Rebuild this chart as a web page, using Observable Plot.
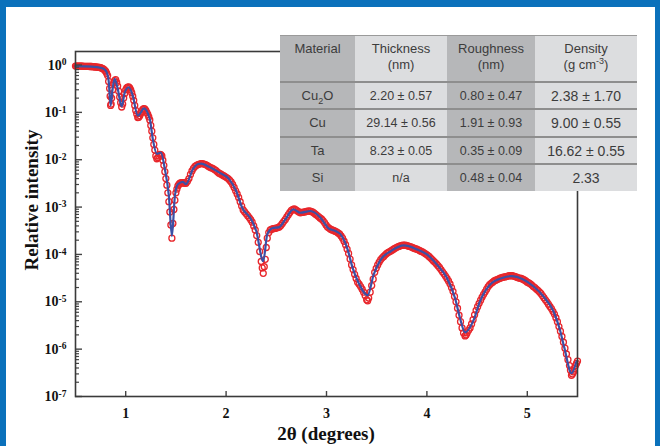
<!DOCTYPE html>
<html><head><meta charset="utf-8">
<script src="https://cdn.jsdelivr.net/npm/d3@7"></script>
<script src="https://cdn.jsdelivr.net/npm/@observablehq/plot@0.6"></script>
<style>
body{margin:0;background:#fff;}
#wrap{position:relative;width:660px;height:446px;overflow:hidden;background:#fff;}
#wrap svg{position:absolute;left:0;top:0;}
.bar{position:absolute;background:#0b71bb;z-index:5;}
#tbl{position:absolute;left:280px;top:35px;width:357px;display:grid;grid-template-columns:75px 92px 88px 102px;grid-template-rows:47px 27px 28px 27px 26px;font-family:"Liberation Sans",Arial,sans-serif;font-size:13px;color:#3c3c3c;z-index:4;border-top:1px solid #9a9a9a;}
#tbl > div{display:flex;align-items:center;justify-content:center;text-align:center;box-sizing:border-box;line-height:16px;}
#tbl > div.hd{align-items:flex-start;padding-top:5px;}
#tbl > div.dk{background:#b6b7b9;}
#tbl > div.lt{background:#dcdddf;}
#tbl > div.sep{border-bottom:2px solid #8e8e8e;}
#tbl sub,#tbl sup{font-size:9px;line-height:0;}
</style>
</head><body>
<div id="wrap">
  <div class="bar" style="left:0;top:0;width:660px;height:7px"></div>
  <div class="bar" style="left:0;top:0;width:6px;height:446px"></div>
  <div class="bar" style="left:655px;top:0;width:5px;height:446px"></div>
  <div id="tbl"></div>
</div>
<script>
// ---- data ----
// fitted model (blue line)
const thetaFit = [0.50,0.66,0.76,0.79,0.81,0.83,0.85,0.87,0.89,0.92,0.96,0.99,1.03,1.07,1.12,1.15,1.18,1.24,1.27,1.31,1.35,1.39,1.43,1.46,1.49,1.52,1.57,1.60,1.67,1.72,1.75,1.83,1.93,2.03,2.10,2.16,2.25,2.30,2.37,2.41,2.46,2.53,2.59,2.67,2.74,2.84,2.94,3.02,3.09,3.14,3.21,3.26,3.32,3.41,3.47,3.54,3.64,3.77,3.90,4.00,4.10,4.20,4.28,4.33,4.38,4.46,4.53,4.63,4.75,4.84,4.96,5.06,5.16,5.26,5.32,5.37,5.44,5.49];
const intensityFit = [0.944,0.929,0.863,0.803,0.703,0.470,0.139,0.318,0.511,0.318,0.134,0.261,0.339,0.226,0.0851,0.0986,0.122,0.0724,0.0273,0.0133,0.0142,6.3e-3,1.72e-3,2.44e-4,1.72e-3,3.04e-3,3.40e-3,3.04e-3,6.3e-3,8.1e-3,8.3e-3,7.1e-3,5.4e-3,3.9e-3,2.19e-3,9.7e-4,5.5e-4,3.12e-4,7.2e-5,2.65e-4,3.56e-4,3.78e-4,5.5e-4,8.97e-4,7.6e-4,8.26e-4,5.96e-4,3.56e-4,3.12e-4,2.65e-4,1.28e-4,5.2e-5,2.5e-5,1.37e-5,3.77e-5,7.8e-5,1.17e-4,1.55e-4,1.28e-4,1.0e-4,6.1e-5,3.19e-5,1.2e-5,4.5e-6,2.26e-6,3.86e-6,1.03e-5,2.31e-5,3.19e-5,3.47e-5,2.95e-5,2.13e-5,1.31e-5,6.3e-6,2.79e-6,1.05e-6,3.1e-7,5.5e-7];

// measured data (red open circles), first set of readings
const thetaMeas = [0.50,0.52,0.54,0.56,0.58,0.60,0.62,0.64,0.66,0.68,0.70,0.72,0.74,0.76,0.78,0.80,0.82,0.84,0.85,0.86,0.88,0.90,0.92,0.94,0.96,0.98,1.00,1.02,1.04,1.06,1.08,1.10,1.12,1.14,1.16,1.18,1.20,1.22,1.24,1.26,1.28,1.30,1.32,1.34,1.36,1.38,1.40,1.42,1.44,1.46,1.48,1.50,1.52,1.54,1.56,1.58,1.60,
1.63,1.66,1.69,1.72,1.75,1.78,1.81,1.84,1.87,1.90,1.93,1.96,1.99,2.02,2.05,2.08,2.11,2.14,2.17,2.20,2.23,2.26,2.29,2.32,2.35,2.37,2.39,2.41,2.44,2.47,2.50,2.53,2.56,2.59,2.62,2.65,2.68,2.71,2.74,2.77,2.80,2.83,2.86,2.89,2.92,2.95,2.98,3.01,3.04,3.07,3.10,3.13,3.16,3.19,3.22,3.25,3.28,3.31,3.34,3.37,3.40,3.42,3.45,3.48,3.51,3.54,3.57,3.60,3.63,3.66,3.69,3.72,3.75,3.78,3.81,3.84,3.87,3.90,3.93,3.96,3.99,4.02,4.05,4.08,4.11,4.14,4.17,4.20,4.23,4.26,4.29,4.32,4.35,4.38,4.40,4.43,4.46,4.49,4.52,4.55,4.58,4.61,4.64,4.67,4.70,4.73,4.76,4.79,4.82,4.85,4.88,4.91,4.94,4.97,5.00,5.03,5.06,5.09,5.12,5.15,5.18,5.21,5.24,5.27,5.30,5.33,5.36,5.39,5.42,5.44,5.46,5.48,5.50];
const intensityMeas = [0.95,0.95,0.95,0.95,0.94,0.94,0.94,0.93,0.93,0.92,0.91,0.90,0.89,0.86,0.82,0.74,0.60,0.32,0.14,0.20,0.42,0.49,0.36,0.21,0.13,0.20,0.30,0.34,0.33,0.26,0.18,0.11,0.078,0.085,0.105,0.12,0.11,0.091,0.069,0.040,0.021,0.012,0.011,0.013,0.012,7.6e-3,4.0e-3,2.0e-3,7.9e-4,2.2e-4,8.9e-4,2.0e-3,2.8e-3,3.2e-3,3.3e-3,3.2e-3,3.2e-3,
4.0e-3,5.8e-3,7.2e-3,7.9e-3,8.3e-3,8.1e-3,7.6e-3,6.9e-3,6.5e-3,5.9e-3,5.2e-3,4.8e-3,4.4e-3,4.0e-3,3.4e-3,2.6e-3,1.9e-3,1.3e-3,8.7e-4,7.2e-4,6.0e-4,4.8e-4,3.3e-4,1.8e-4,7.1e-5,4.0e-5,7.9e-5,2.2e-4,3.3e-4,3.5e-4,3.6e-4,3.8e-4,4.5e-4,5.5e-4,6.9e-4,8.5e-4,9.1e-4,8.3e-4,7.6e-4,7.8e-4,8.1e-4,8.3e-4,7.9e-4,7.1e-4,6.3e-4,5.6e-4,4.7e-4,3.8e-4,3.4e-4,3.2e-4,3.0e-4,2.7e-4,2.2e-4,1.6e-4,1.05e-4,6.0e-5,3.8e-5,2.6e-5,2.1e-5,1.6e-5,1.1e-5,1.2e-5,2.2e-5,4.2e-5,6.0e-5,7.8e-5,9.1e-5,1.05e-4,1.15e-4,1.26e-4,1.38e-4,1.48e-4,1.55e-4,1.58e-4,1.51e-4,1.45e-4,1.35e-4,1.29e-4,1.20e-4,1.12e-4,1.02e-4,9.1e-5,7.9e-5,6.8e-5,5.8e-5,4.8e-5,3.9e-5,3.1e-5,2.4e-5,1.66e-5,1.0e-5,5.2e-6,2.8e-6,1.9e-6,2.2e-6,2.8e-6,4.2e-6,6.6e-6,9.3e-6,1.26e-5,1.62e-5,2.1e-5,2.45e-5,2.75e-5,2.95e-5,3.16e-5,3.3e-5,3.4e-5,3.55e-5,3.55e-5,3.4e-5,3.2e-5,3.1e-5,2.9e-5,2.6e-5,2.4e-5,2.1e-5,1.86e-5,1.62e-5,1.35e-5,1.1e-5,8.9e-6,7.2e-6,5.5e-6,3.8e-6,2.4e-6,1.4e-6,7.9e-7,4.5e-7,2.8e-7,3.3e-7,4.5e-7,5.6e-7];

// measured data (red open circles), readings between the first set
const thetaMeas2 = [0.51,0.53,0.55,0.57,0.59,0.61,0.63,0.65,0.67,0.69,0.71,0.73,0.75,0.77,0.79,0.81,0.83,0.845,0.855,0.87,0.89,0.91,0.93,0.95,0.97,0.99,1.01,1.03,1.05,1.07,1.09,1.11,1.13,1.15,1.17,1.19,1.21,1.23,1.25,1.27,1.29,1.31,1.33,1.35,1.37,1.39,1.41,1.43,1.45,1.47,1.49,1.51,1.53,1.55,1.57,1.59,
1.615,1.645,1.675,1.705,1.735,1.765,1.795,1.825,1.855,1.885,1.915,1.945,1.975,2.005,2.035,2.065,2.095,2.125,2.155,2.185,2.215,2.245,2.275,2.305,2.335,2.36,2.38,2.40,2.425,2.455,2.485,2.515,2.545,2.575,2.605,2.635,2.665,2.695,2.725,2.755,2.785,2.815,2.845,2.875,2.905,2.935,2.965,2.995,3.025,3.055,3.085,3.115,3.145,3.175,3.205,3.235,3.265,3.295,3.325,3.355,3.385,3.41,3.435,3.465,3.495,3.525,3.555,3.585,3.615,3.645,3.675,3.705,3.735,3.765,3.795,3.825,3.855,3.885,3.915,3.945,3.975,4.005,4.035,4.065,4.095,4.125,4.155,4.185,4.215,4.245,4.275,4.305,4.335,4.365,4.39,4.415,4.445,4.475,4.505,4.535,4.565,4.595,4.625,4.655,4.685,4.715,4.745,4.775,4.805,4.835,4.865,4.895,4.925,4.955,4.985,5.015,5.045,5.075,5.105,5.135,5.165,5.195,5.225,5.255,5.285,5.315,5.345,5.375,5.405,5.43,5.45,5.47,5.49];
const intensityMeas2 = [0.95,0.95,0.95,0.945,0.94,0.94,0.935,0.93,0.925,0.915,0.905,0.895,0.875,0.84,0.78,0.67,0.45,0.22,0.15,0.30,0.47,0.43,0.28,0.16,0.15,0.25,0.33,0.345,0.30,0.22,0.14,0.092,0.079,0.095,0.115,0.118,0.10,0.080,0.053,0.029,0.016,0.0105,0.012,0.0128,0.0098,5.6e-3,2.9e-3,1.3e-3,4.2e-4,4.5e-4,1.4e-3,2.4e-3,3.0e-3,3.25e-3,3.3e-3,3.2e-3,
3.5e-3,4.9e-3,6.6e-3,7.6e-3,8.1e-3,8.3e-3,7.9e-3,7.2e-3,6.7e-3,6.2e-3,5.5e-3,5.0e-3,4.6e-3,4.2e-3,3.7e-3,3.0e-3,2.2e-3,1.6e-3,1.05e-3,7.9e-4,6.6e-4,5.4e-4,4.0e-4,2.5e-4,1.15e-4,5.2e-5,5.5e-5,1.4e-4,2.9e-4,3.4e-4,3.55e-4,3.7e-4,4.1e-4,5.0e-4,6.2e-4,7.7e-4,8.9e-4,8.7e-4,7.9e-4,7.7e-4,7.9e-4,8.2e-4,8.1e-4,7.5e-4,6.7e-4,5.9e-4,5.2e-4,4.2e-4,3.6e-4,3.3e-4,3.1e-4,2.85e-4,2.45e-4,1.9e-4,1.3e-4,8.0e-5,4.8e-5,3.1e-5,2.35e-5,1.85e-5,1.35e-5,1.05e-5,1.6e-5,3.0e-5,5.1e-5,6.9e-5,8.5e-5,9.8e-5,1.1e-4,1.2e-4,1.32e-4,1.43e-4,1.52e-4,1.57e-4,1.55e-4,1.48e-4,1.4e-4,1.32e-4,1.25e-4,1.16e-4,1.07e-4,9.7e-5,8.5e-5,7.3e-5,6.3e-5,5.3e-5,4.3e-5,3.5e-5,2.75e-5,2.0e-5,1.3e-5,7.3e-6,3.8e-6,2.2e-6,2.0e-6,2.5e-6,3.4e-6,5.3e-6,7.9e-6,1.08e-5,1.44e-5,1.85e-5,2.3e-5,2.6e-5,2.85e-5,3.05e-5,3.25e-5,3.35e-5,3.5e-5,3.55e-5,3.5e-5,3.3e-5,3.15e-5,3.0e-5,2.75e-5,2.5e-5,2.25e-5,2.0e-5,1.75e-5,1.5e-5,1.22e-5,1.0e-5,8.0e-6,6.3e-6,4.6e-6,3.0e-6,1.85e-6,1.05e-6,6.0e-7,3.6e-7,3.0e-7,3.9e-7,5.0e-7];

const xDomain = [0.5, 5.5];
const yDomain = [1e-7, 1.93];
const xTicks = [1, 2, 3, 4, 5];
const yMajorTicks = [1e0, 1e-1, 1e-2, 1e-3, 1e-4, 1e-5, 1e-6, 1e-7];
const yMinorMultipliers = [2, 3, 4, 5, 6, 7, 8, 9];
const xTitle = "2θ (degrees)";
const yTitle = "Relative intensity";

const tableHeaders = ["Material", "Thickness", "Roughness", "Density"];
const tableUnits = ["", "(nm)", "(nm)", "(g cm^-3)"];
const materials = ["Cu_2O", "Cu", "Ta", "Si"];
const thickness = ["2.20 ± 0.57", "29.14 ± 0.56", "8.23 ± 0.05", "n/a"];
const roughness = ["0.80 ± 0.47", "1.91 ± 0.93", "0.35 ± 0.09", "0.48 ± 0.04"];
const density = ["2.38 ± 1.70", "9.00 ± 0.55", "16.62 ± 0.55", "2.33"];

// ---- build ----
const fit = thetaFit.map((x, i) => ({x, y: intensityFit[i]}));
const meas = thetaMeas.map((x, i) => ({x, y: intensityMeas[i]}))
  .concat(thetaMeas2.map((x, i) => ({x, y: intensityMeas2[i]})));
const yMinor = [];
yMajorTicks.forEach(t => yMinorMultipliers.forEach(m => { const v = t * m; if (v < yDomain[1] && v > yDomain[0]) yMinor.push(v); }));

const chart = Plot.plot({
  width: 660, height: 446,
  marginLeft: 75, marginRight: 83, marginTop: 51, marginBottom: 50,
  style: {fontFamily: "'Liberation Serif', 'Times New Roman', serif", fontSize: "13px", fontWeight: "bold", color: "#111", background: "transparent"},
  x: {domain: xDomain},
  y: {type: "log", domain: yDomain},
  marks: [
    Plot.dot(meas, {x: "x", y: "y", r: 3.0, stroke: "#e8262b", strokeWidth: 1.3, fill: "none"}),
    Plot.line(fit, {x: "x", y: "y", stroke: "#3b50a5", strokeWidth: 2.2, curve: "monotone-x"}),
    Plot.axisY(yMinor, {anchor: "left", tickSize: 4, dx: 4, tickFormat: () => "", stroke: "#444", strokeWidth: 1.2, label: null}),
    Plot.axisY(yMajorTicks, {anchor: "left", tickSize: 7, dx: 7, tickPadding: 9, fontSize: 14, tickFormat: d => "10^" + Math.round(Math.log10(d)), stroke: "#444", strokeWidth: 1.4, label: null, fill: "#111"}),
    Plot.axisX(xTicks, {anchor: "bottom", tickSize: 5, dy: -5, tickPadding: 12, fontSize: 14, tickFormat: d => String(d), stroke: "#444", strokeWidth: 1.4, label: null, fill: "#111"}),
    Plot.frame({stroke: "#3a3a3a", strokeWidth: 1.6})
  ]
});
document.getElementById("wrap").insertBefore(chart, document.getElementById("tbl"));

// superscript exponents on the y tick labels
d3.select(chart).selectAll('g[aria-label="y-axis tick label"] text').each(function() {
  const t = this.textContent;
  if (!t.includes("^")) return;
  const [base, exp] = t.split("^");
  const sel = d3.select(this);
  sel.text(base);
  sel.append("tspan").attr("dy", "-0.45em").attr("font-size", "9.5px").text(exp);
});

// axis titles
const svg = d3.select(chart);
svg.append("text").attr("x", 326).attr("y", 440).attr("text-anchor", "middle")
  .attr("font-size", "19px").attr("font-weight", "bold").attr("fill", "#111")
  .attr("font-family", "'Liberation Serif', serif").text(xTitle);
svg.append("text").attr("transform", "translate(38,200) rotate(-90)").attr("text-anchor", "middle")
  .attr("font-size", "19px").attr("font-weight", "bold").attr("fill", "#111")
  .attr("font-family", "'Liberation Serif', serif").text(yTitle);

// table
const tbl = document.getElementById("tbl");
const shade = ["dk", "lt", "dk", "lt"];
const fmt = s => s.replace(/_(\d)/, "<sub>$1</sub>").replace(/\^(-?\d)/, "<sup>$1</sup>");
tableHeaders.forEach((h, c) => {
  const d = document.createElement("div");
  d.className = "hd sep " + shade[c];
  d.innerHTML = "<span>" + (tableUnits[c] ? h + "<br>" + fmt(tableUnits[c]) : h) + "</span>";
  tbl.appendChild(d);
});
materials.forEach((m, r) => {
  [materials[r], thickness[r], roughness[r], density[r]].forEach((v, c) => {
    const d = document.createElement("div");
    d.className = shade[c] + (r < materials.length - 1 ? " sep" : "");
    if (c === 3) d.style.fontSize = "14px";
    if (c === 1 || c === 2) d.style.fontSize = "12.5px";
    d.innerHTML = "<span>" + fmt(v) + "</span>";
    tbl.appendChild(d);
  });
});
</script>
</body></html>
